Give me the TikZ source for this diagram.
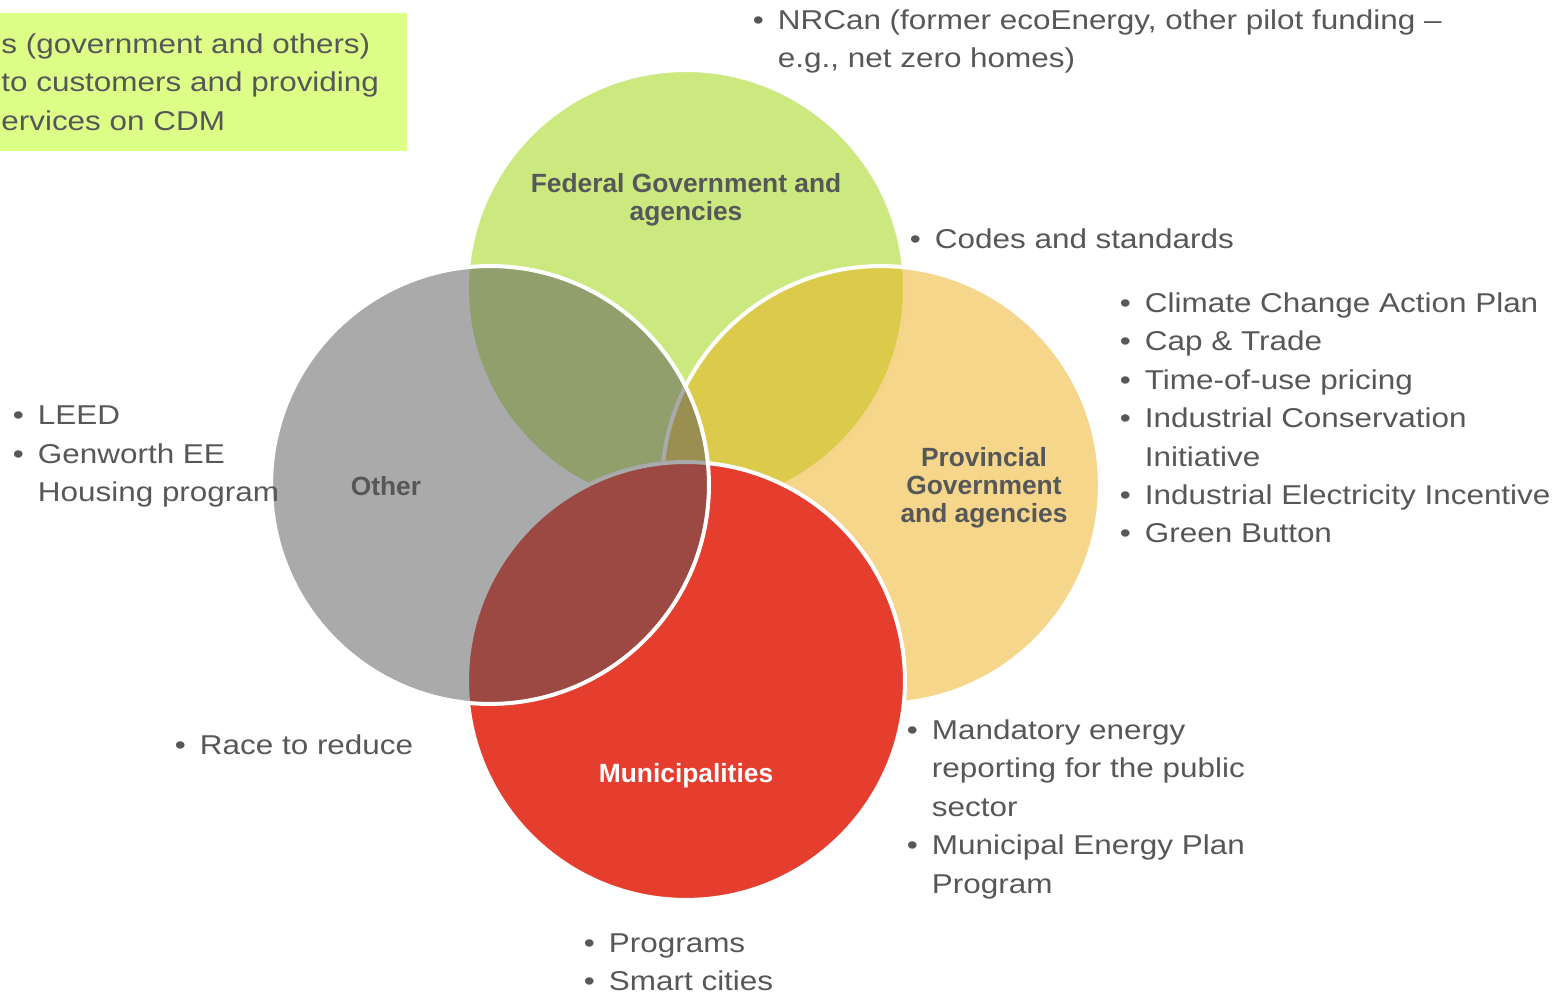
\documentclass[tikz,border=0pt]{standalone}
\usepackage{fontspec}
\setmainfont{Liberation Sans}
\newfontfamily\listfont{Liberation Sans}[FakeStretch=1.155]
\definecolor{fedgreen}{RGB}{153,211,1}
\definecolor{provorange}{RGB}{237,173,21}
\definecolor{munired}{RGB}{229,61,46}
\definecolor{othergray}{RGB}{85,86,88}
\definecolor{txtgray}{RGB}{85,87,89}
\definecolor{notegreen}{RGB}{221,255,136}
\newcommand{\blist}[1]{\begin{tabular}[t]{@{}l@{\hspace{8pt}}l@{}}#1\end{tabular}}
\tikzset{
  venn/.style={circle, draw=white, line width=0.08cm, minimum size=8.76cm, inner sep=0pt, fill opacity=0.5},
  grouplbl/.style={align=center, text=txtgray, inner sep=0pt, font=\fontsize{15}{15.9}\selectfont\bfseries},
  bullets/.style={anchor=base west, inner sep=0pt, text=txtgray, font=\listfont\fontsize{15.5}{21.85}\selectfont},
}

\begin{document}
\begin{tikzpicture}[x=0.02cm, y=-0.02cm]
  \useasboundingbox (0,0) rectangle (1563,996);
  \fill[notegreen] (-10,13) rectangle (407,151);
  \node[bullets] (note) at (1,53.5) {\begin{tabular}[t]{@{}l@{}}s (government and others)\\to customers and providing\\ervices on CDM\end{tabular}};
  \node[venn, fill=fedgreen] (fed) at (686,289) {};
  \node[venn, fill=provorange] (prov) at (881,485) {};
  \node[venn, fill=munired, fill opacity=1] (muni) at (686,681) {};
  \node[venn, fill=othergray] (other) at (490,485) {};
  \node[grouplbl] (fedlbl) at (686,200) {Federal Government and\\agencies};
  \node[grouplbl] (provlbl) at (984,487.5) {Provincial\\Government\\and agencies};
  \node[grouplbl] (otherlbl) at (386,486) {Other};
  \node[grouplbl, text=white] (munilbl) at (686,776) {Municipalities};
  \node[bullets] (nrcan) at (752.5,29.5) {\blist{\textbullet & NRCan (former ecoEnergy, other pilot funding –\\ & e.g., net zero homes)}};
  \node[bullets] (codes) at (909.5,248.5) {\blist{\textbullet & Codes and standards}};
  \node[bullets] (provlist) at (1119.5,312.5) {\blist{\textbullet & Climate Change Action Plan\\
    \textbullet & Cap \& Trade\\
    \textbullet & Time-of-use pricing\\
    \textbullet & Industrial Conservation\\
     & Initiative\\
    \textbullet & Industrial Electricity Incentive\\
    \textbullet & Green Button}};
  \node[bullets] (otherlist) at (12.5,425) {\blist{\textbullet & LEED\\
    \textbullet & Genworth EE\\
     & Housing program}};
  \node[bullets] (race) at (174.5,754.5) {\blist{\textbullet & Race to reduce}};
  \node[bullets] (munilist) at (906.5,739.5) {\blist{\textbullet & Mandatory energy\\
     & reporting for the public\\
     & sector\\
    \textbullet & Municipal Energy Plan\\
     & Program}};
  \node[bullets] (progs) at (583.5,952) {\blist{\textbullet & Programs\\
    \textbullet & Smart cities}};
\end{tikzpicture}
\end{document}
